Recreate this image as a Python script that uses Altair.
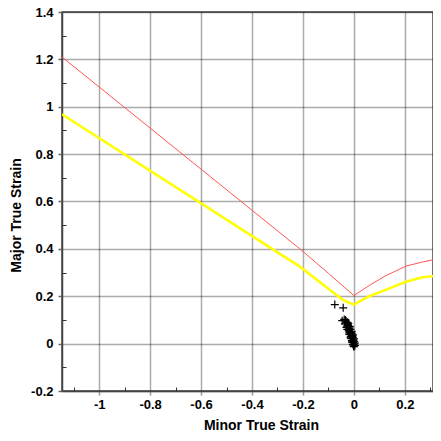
import altair as alt
import pandas as pd

# Forming limit curves (minor strain, major strain)
red_x = [-1.146, -0.212, -0.1, 0.0, 0.06, 0.122, 0.204, 0.27, 0.342]
red_y = [1.21, 0.40, 0.297, 0.203, 0.245, 0.285, 0.327, 0.345, 0.36]

yellow_x = [-1.146, -0.212, -0.1, -0.042, 0.0, 0.06, 0.122, 0.204, 0.27, 0.342]
yellow_y = [0.968, 0.325, 0.232, 0.184, 0.165, 0.2, 0.226, 0.261, 0.28, 0.287]

# Measured strain points
pts_x = [-0.075, -0.042, -0.046, -0.033, -0.025, -0.035, -0.022, -0.029, -0.020,
         -0.020, -0.016, -0.014, -0.012, -0.010, -0.008, -0.006, -0.004, 0.000,
         -0.026, -0.018, -0.012, -0.008, -0.004, -0.002, 0.002, -0.014, -0.010,
         -0.006, -0.002, 0.001, -0.016, -0.009, -0.004, 0.000, -0.024, -0.030,
         -0.038, -0.031, -0.022, -0.017, -0.011, -0.006, 0.003, -0.003, -0.027,
         -0.019, -0.013, -0.007, 0.004, -0.001]
pts_y = [0.165, 0.151, 0.097, 0.100, 0.090, 0.083, 0.076, 0.069, 0.062,
         0.055, 0.047, 0.038, 0.030, 0.021, 0.013, 0.004, -0.004, -0.013,
         0.060, 0.050, 0.042, 0.034, 0.025, 0.016, 0.008, 0.060, 0.045,
         0.030, 0.012, -0.002, 0.072, 0.052, 0.036, 0.020, 0.080, 0.088,
         0.102, 0.095, 0.085, 0.066, 0.050, 0.040, 0.002, 0.005, 0.074,
         0.040, 0.024, 0.008, -0.008, -0.010]

x_major = [-1, -0.8, -0.6, -0.4, -0.2, 0, 0.2]
x_minor = [-1.1, -0.9, -0.7, -0.5, -0.3, -0.1, 0.1, 0.3]
y_major = [-0.2, 0, 0.2, 0.4, 0.6, 0.8, 1, 1.2, 1.4]
y_minor = [-0.1, 0.1, 0.3, 0.5, 0.7, 0.9, 1.1, 1.3]

red_df = pd.DataFrame({"minor": red_x, "major": red_y})
yellow_df = pd.DataFrame({"minor": yellow_x, "major": yellow_y})
pts_df = pd.DataFrame({"minor": pts_x, "major": pts_y})

FONT = "Liberation Sans"
xscale = alt.Scale(domain=[-1.146, 0.3106], nice=False, zero=False)
yscale = alt.Scale(domain=[-0.2, 1.4], nice=False, zero=False)

xaxis = alt.Axis(
    values=x_major, labelExpr="'' + datum.value", title="Minor True Strain",
    grid=True, gridColor="#000000", gridOpacity=0.33, gridWidth=1.5,
    tickSize=4, tickColor="#999999", tickWidth=1.5,
    domainColor="#444444", domainWidth=1.5,
    labelFont=FONT, labelFontSize=13, labelFontWeight="bold", labelColor="#000000",
    labelPadding=3, labelFlush=False,
    titleFont=FONT, titleFontSize=14, titleFontWeight="bold", titleColor="#000000",
    titleX=199, titleY=38.5, titleBaseline="alphabetic", titleAlign="center",
)
yaxis = alt.Axis(
    values=y_major, labelExpr="'' + datum.value", title="Major True Strain",
    grid=True, gridColor="#000000", gridOpacity=0.33, gridWidth=1.5,
    tickSize=4, tickColor="#666666", tickWidth=1.5,
    domainColor="#444444", domainWidth=1.5,
    labelFont=FONT, labelFontSize=13, labelFontWeight="bold", labelColor="#000000",
    labelPadding=5, labelFlush=False,
    titleFont=FONT, titleFontSize=14, titleFontWeight="bold", titleColor="#000000",
    titleX=-42, titleY=203, titleBaseline="alphabetic", titleAlign="center", titleAngle=270,
)

xenc = alt.X("minor:Q", scale=xscale, axis=xaxis)
yenc = alt.Y("major:Q", scale=yscale, axis=yaxis)

red = alt.Chart(red_df).mark_line(color="#ff5555", strokeWidth=1, clip=True).encode(x=xenc, y=yenc)
yellow = alt.Chart(yellow_df).mark_line(color="#ffff00", strokeWidth=2.5, clip=True).encode(x=xenc, y=yenc)
pts = alt.Chart(pts_df).mark_point(
    shape="M-1,0H1M0,-1V1", filled=False, stroke="#000000", strokeWidth=1.2, size=64, opacity=1
).encode(x=xenc, y=yenc)

main = alt.layer(red, yellow, pts)

minor_x_axis = alt.Axis(values=x_minor, labels=False, domain=False, grid=False, title=None,
                        orient="bottom", offset=-4, tickSize=4, tickColor="#333333", tickWidth=1)
minor_y_axis = alt.Axis(values=y_minor, labels=False, domain=False, grid=False, title=None,
                        orient="left", offset=-4, tickSize=4, tickColor="#333333", tickWidth=1)
minor = alt.Chart(red_df).mark_point(opacity=0, clip=True).encode(
    x=alt.X("minor:Q", scale=xscale, axis=minor_x_axis),
    y=alt.Y("major:Q", scale=yscale, axis=minor_y_axis),
)

chart = alt.layer(main, minor).resolve_axis(x="independent", y="independent").properties(
    width=371, height=379,
    autosize=alt.AutoSizeParams(type="none"),
    padding={"left": 54, "top": 4, "right": 0, "bottom": 42},
    background="#ffffff",
).configure_view(stroke="#444444", strokeWidth=1.5)

chart.save("out.html", embed_options={"renderer": "svg", "actions": False})
